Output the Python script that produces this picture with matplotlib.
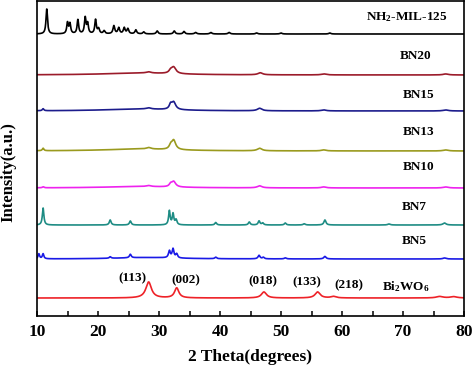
import numpy as np
import matplotlib
matplotlib.use("Agg")
import matplotlib.pyplot as plt

plt.rcParams['font.family'] = ['Liberation Serif', 'DejaVu Serif']
plt.rcParams['font.weight'] = 'bold'
plt.rcParams['mathtext.fontset'] = 'custom'
plt.rcParams['mathtext.rm'] = 'Liberation Serif:bold'
plt.rcParams['mathtext.default'] = 'rm'

# sample names, vertical offsets (a.u.) and colours, top to bottom
names = ['NH$_2$-MIL-125', 'BN20', 'BN15', 'BN13', 'BN10', 'BN7', 'BN5', 'Bi$_2$WO$_6$']
offsets = [282, 241, 205, 165, 128, 91, 57, 18]
colors = ['#000000', '#9b1b2a', '#1c1c8c', '#9a9a1e', '#ee22ee', '#1e8c84', '#1a1ae6', '#ee2228']

# peak tables: 2theta (deg), height (a.u.), FWHM (deg)
mil_pos = [11.6, 15.0, 15.4, 16.7, 17.9, 18.3, 19.6, 20.1, 21.0, 22.6, 23.4, 24.3, 24.9,
           26.2, 27.5, 29.7, 32.5, 34.1, 36.0, 38.5, 41.5, 46.0, 50.0, 58.0]
mil_h = [25, 11, 10, 14, 16, 10, 14, 5, 3, 8, 6, 6, 5, 4, 2, 3, 3, 2.5, 1.5, 1.5, 1.5, 1, 1, 1]
mil_w = [0.3, 0.3, 0.3, 0.3, 0.3, 0.3, 0.3, 0.35, 0.35, 0.35, 0.35, 0.35, 0.35,
         0.35, 0.35, 0.35, 0.35, 0.35, 0.4, 0.4, 0.4, 0.4, 0.4, 0.4]

bn20_pos = [28.3, 31.9, 32.4, 46.6, 57.0, 77.0, 27.0]
bn20_h = [1.2, 2.5, 6.5, 2, 1, 1, 2]
bn20_w = [0.9, 0.6, 0.9, 0.9, 0.9, 1.0, 14]

bn15_pos = [11.0, 28.3, 31.9, 32.4, 46.5, 57.0, 77.0, 27.0]
bn15_h = [2, 1.2, 4.5, 7.5, 2.5, 1, 1, 2]
bn15_w = [0.3, 0.9, 0.5, 0.8, 0.9, 0.9, 1.0, 14]

bn13_pos = [11.0, 28.3, 31.9, 32.4, 46.5, 57.0, 77.0, 27.0]
bn13_h = [2.5, 1.5, 3.5, 9.5, 2.5, 1, 1, 2]
bn13_w = [0.3, 0.9, 0.5, 0.8, 0.9, 0.9, 1.0, 14]

bn10_pos = [11.0, 28.3, 31.9, 32.4, 46.5, 57.0, 77.0, 27.0]
bn10_h = [1, 1, 2.5, 5.5, 2, 1, 1, 1.5]
bn10_w = [0.3, 0.9, 0.5, 0.8, 0.9, 0.9, 1.0, 14]

bn7_pos = [11.0, 22.0, 25.3, 31.7, 32.3, 32.8, 39.3, 44.8, 46.4, 47.0, 50.7, 53.8, 57.2, 67.7, 76.8]
bn7_h = [17, 5, 4, 14, 11, 5, 2.5, 3, 4, 2, 2, 1.2, 5, 1, 2]
bn7_w = [0.3, 0.35, 0.35, 0.3, 0.3, 0.35, 0.35, 0.35, 0.35, 0.35, 0.35, 0.4, 0.4, 0.5, 0.6]

bn5_pos = [10.3, 11.0, 22.0, 25.3, 31.7, 32.3, 32.9, 39.3, 46.4, 47.1, 50.7, 57.2, 76.8, 28.0]
bn5_h = [5, 5, 1.5, 3.5, 7, 9, 4, 1.5, 3.5, 1.5, 1, 2.5, 1, 1.5]
bn5_w = [0.3, 0.3, 0.35, 0.35, 0.35, 0.35, 0.35, 0.35, 0.4, 0.35, 0.4, 0.45, 0.6, 12]

bwo_pos = [28.3, 32.9, 47.2, 56.0, 58.6, 76.0, 78.3]
bwo_h = [16, 10, 6, 6, 1.5, 1.5, 1.3]
bwo_w = [1.1, 0.85, 1.0, 1.0, 1.0, 1.3, 1.3]

peak_tables = [(mil_pos, mil_h, mil_w), (bn20_pos, bn20_h, bn20_w), (bn15_pos, bn15_h, bn15_w),
               (bn13_pos, bn13_h, bn13_w), (bn10_pos, bn10_h, bn10_w), (bn7_pos, bn7_h, bn7_w),
               (bn5_pos, bn5_h, bn5_w), (bwo_pos, bwo_h, bwo_w)]

# label positions (2theta, intensity)
label_x = [70.7, 72.1, 72.5, 72.5, 72.5, 71.8, 71.8, 70.5]
label_y = [299, 260, 221, 184, 149, 109, 75, 29]

hkl = ['(113)', '(002)', '(018)', '(133)', '(218)']
hkl_x = [25.7, 34.4, 47.0, 54.3, 61.1]
hkl_y = [38, 36, 35, 34, 31]


def profile(x, pos, h, w):
    # sum of Lorentzian peaks
    y = np.zeros_like(x)
    for p, a, fw in zip(pos, h, w):
        g = fw / 2.0
        y += a * g**2 / ((x - p)**2 + g**2)
    return y


fig = plt.figure(figsize=(4.74, 3.72), dpi=100)
ax = fig.add_axes([37 / 474, 56 / 372, 427 / 474, 315 / 372])

tt = np.linspace(10, 80, 3000)
for (pos, h, w), off, c in zip(peak_tables, offsets, colors):
    ax.plot(tt, off + profile(tt, pos, h, w), color=c, lw=1.2)

for name, lx, ly in zip(names, label_x, label_y):
    ax.text(lx, ly, name, ha='center', va='center', fontsize=9.5, fontweight='bold')

for t, hx, hy in zip(hkl, hkl_x, hkl_y):
    ax.text(hx, hy, t, ha='center', va='center', fontsize=9.5, fontweight='bold')

ax.set_xlim(10, 80)
ax.set_ylim(0, 315)
ax.set_xticks(range(10, 81, 10))
ax.set_xticks(range(15, 80, 10), minor=True)
ax.set_yticks([])
ax.tick_params(axis='x', which='both', direction='in', length=3.5, width=1.1, labelsize=12.5, pad=6)
for lbl in ax.get_xticklabels():
    lbl.set_fontweight('bold')
for s in ax.spines.values():
    s.set_linewidth(1.2)

ax.set_xlabel('2 Theta(degrees)', fontsize=12.5, fontweight='bold', labelpad=6)
fig.text(8 / 474, 1 - 172 / 372, 'Intensity(a.u.)', rotation=90, ha='center', va='center',
         fontsize=12, fontweight='bold')

fig.savefig('out.png', dpi=100)
